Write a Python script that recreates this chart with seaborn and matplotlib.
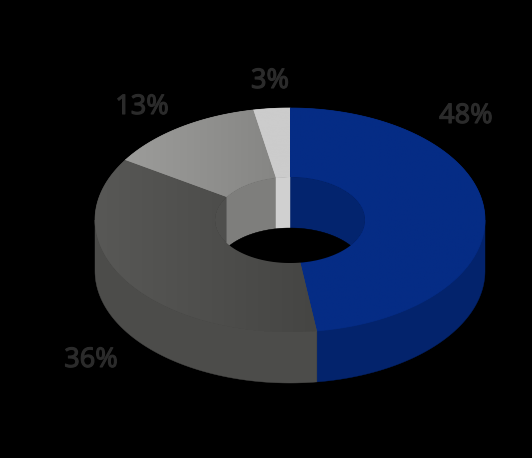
import numpy as np
import matplotlib
matplotlib.use("Agg")
import matplotlib.pyplot as plt
import matplotlib.patheffects as pe
from matplotlib.colors import LinearSegmentedColormap
from matplotlib.patches import Polygon
import seaborn as sns

# slices, clockwise from 12 o'clock
shares = [47.8, 36.2, 13.0, 3.0]
top_colors = [("#052c85", "#052c85"), ("#585856", "#454543"), ("#9c9c9a", "#868684"), ("#cccccc", "#cccccc")]
outer_wall_colors = ["#03236c", "#4c4c4a", "#808080", "#aaaaaa"]
inner_wall_colors = ["#03246e", "#4f4f4d", "#7e7e7c", "#d0d0d0"]
label_color = "#2b2b2b"

# layout in pixels
cx, cy = 290, 220
rx, ry = 195, 112
hole_rx, hole_ry = 75, 43
depth = 51
label_xy = [(466, 116), (91, 360), (142, 107), (270, 81)]

sns.set_theme(style="dark", rc={"figure.facecolor": "black", "axes.facecolor": "black"})
plt.rcParams["font.family"] = ["Noto Sans", "DejaVu Sans"]


def arc(a0, a1, rad_x, rad_y, drop=0, n=200):
    t = np.radians(np.linspace(a0, a1, n))
    return np.column_stack([cx + rad_x * np.sin(t), cy - rad_y * np.cos(t) + drop])


fig, ax = plt.subplots(figsize=(5.32, 4.58), dpi=100)
fig.subplots_adjust(0, 0, 1, 1)
ax.axis("off")

edges = np.concatenate([[0], np.cumsum(shares)]) / sum(shares) * 360

# outer wall, only the front half can be seen
for a0, a1, col in zip(edges[:-1], edges[1:], outer_wall_colors):
    lo, hi = max(a0, 90), min(a1, 270)
    if hi <= lo:
        continue
    pts = np.vstack([arc(lo, hi, rx, ry), arc(hi, lo, rx, ry, depth)])
    ax.add_patch(Polygon(pts, fc=col, ec=col, lw=0.3, zorder=1))

# top face, a solid base under the gradient hides the clip seams
for i, (a0, a1) in enumerate(zip(edges[:-1], edges[1:])):
    pts = np.vstack([arc(a0, a1, rx, ry), arc(a1, a0, hole_rx, hole_ry)])
    pal = sns.blend_palette(top_colors[i], 32)
    ax.add_patch(Polygon(pts, fc=pal[16], ec=pal[16], lw=0.5, zorder=2))
    face = Polygon(pts, fc="none", ec="none", zorder=2.1)
    ax.add_patch(face)
    cmap = LinearSegmentedColormap.from_list("s", pal)
    x0, x1 = pts[:, 0].min(), pts[:, 0].max()
    y0, y1 = pts[:, 1].min(), pts[:, 1].max()
    im = ax.imshow(np.linspace(0, 1, 256)[None, :], cmap=cmap, extent=(x0, x1, y1, y0),
                   aspect="auto", zorder=2.1, interpolation="bilinear")
    im.set_clip_path(face)

ax.set_xlim(0, 532)
ax.set_ylim(458, 0)

# inner wall and the hole, seen through the top opening
hole = Polygon(arc(0, 360, hole_rx, hole_ry), fc="none", ec="none", zorder=3)
ax.add_patch(hole)
for a0, a1, col in zip(edges[:-1], edges[1:], inner_wall_colors):
    pts = np.vstack([arc(a0, a1, hole_rx, hole_ry), arc(a1, a0, hole_rx, hole_ry, depth)])
    wall = Polygon(pts, fc=col, ec=col, lw=0.3, zorder=3)
    ax.add_patch(wall)
    wall.set_clip_path(hole)
floor = Polygon(arc(0, 360, hole_rx, hole_ry, depth), fc="black", ec="black", lw=0.3, zorder=4)
ax.add_patch(floor)
floor.set_clip_path(hole)

for share, (x, y) in zip(shares, label_xy):
    ax.text(x, y, f"{share:.0f}%", color=label_color, fontsize=19.5,
            ha="center", va="center", zorder=5,
            path_effects=[pe.withStroke(linewidth=0.8, foreground=label_color)])

fig.savefig("out.png", dpi=100, facecolor="black")
